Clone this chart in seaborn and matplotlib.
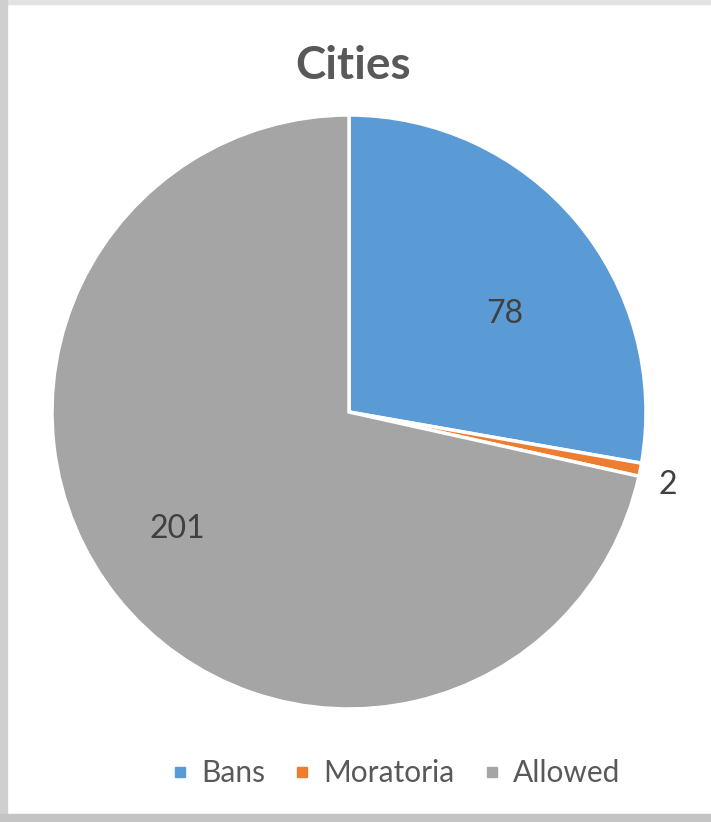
import numpy as np
import matplotlib
matplotlib.use('Agg')
import matplotlib.pyplot as plt
from matplotlib.patches import Rectangle
from matplotlib.lines import Line2D
import seaborn as sns

# chart data
categories = ['Bans', 'Moratoria', 'Allowed']
city_counts = [78, 2, 201]
slice_colors = ['#5B9BD5', '#ED7D31', '#A5A5A5']
chart_title = 'Cities'

# label placement (radius factor, angle tweak in degrees)
label_r = [0.62, 1.10, 0.70]
label_dtheta = [-8.0, -1.7, -4.5]

sns.set_theme(style='white')
plt.rcParams['font.family'] = ['Lato', 'DejaVu Sans']

fig = plt.figure(figsize=(7.11, 8.22), dpi=100)
fig.patch.set_facecolor('white')

# grey frame of the screenshot
fig.patches.append(Rectangle((0, 1 - 4 / 822), 1, 4 / 822, transform=fig.transFigure,
                             color='#e2e2e2', zorder=0))
fig.patches.append(Rectangle((0, 0), 7 / 711, 1, transform=fig.transFigure,
                             color='#cfcfcf', zorder=0))
fig.patches.append(Rectangle((0, 0), 1, 8 / 822, transform=fig.transFigure,
                             color='#c4c4c4', zorder=0))

ax = fig.add_axes([52 / 711, (822 - 709) / 822, 594 / 711, 594 / 822])
wedges, _ = ax.pie(city_counts, colors=slice_colors, startangle=90, counterclock=False,
                   radius=1.0, wedgeprops=dict(edgecolor='white', linewidth=2.5))
ax.set_xlim(-1.0, 1.0)
ax.set_ylim(-1.0, 1.0)
ax.set_aspect('equal')
ax.axis('off')

for w, val, r, dt in zip(wedges, city_counts, label_r, label_dtheta):
    mid = np.deg2rad((w.theta1 + w.theta2) / 2 + dt)
    ax.text(r * np.cos(mid), r * np.sin(mid), str(val), ha='center', va='center',
            fontsize=23, color='#404040')

fig.text(353 / 711, 1 - 66 / 822, chart_title, ha='center', va='center',
         fontsize=33, fontweight='bold', color='#595959')

handles = [Line2D([], [], marker='s', linestyle='none', markersize=7.5,
                  markerfacecolor=c, markeredgecolor=c) for c in slice_colors]
leg = fig.legend(handles, categories, loc='center', bbox_to_anchor=(395 / 711, 1 - 773 / 822),
                 ncol=3, frameon=False, handlelength=0.7, handletextpad=0.35,
                 columnspacing=0.9, prop={'size': 21.5})
for t in leg.get_texts():
    t.set_color('#595959')

fig.savefig('out.png', dpi=100, facecolor=fig.get_facecolor())
